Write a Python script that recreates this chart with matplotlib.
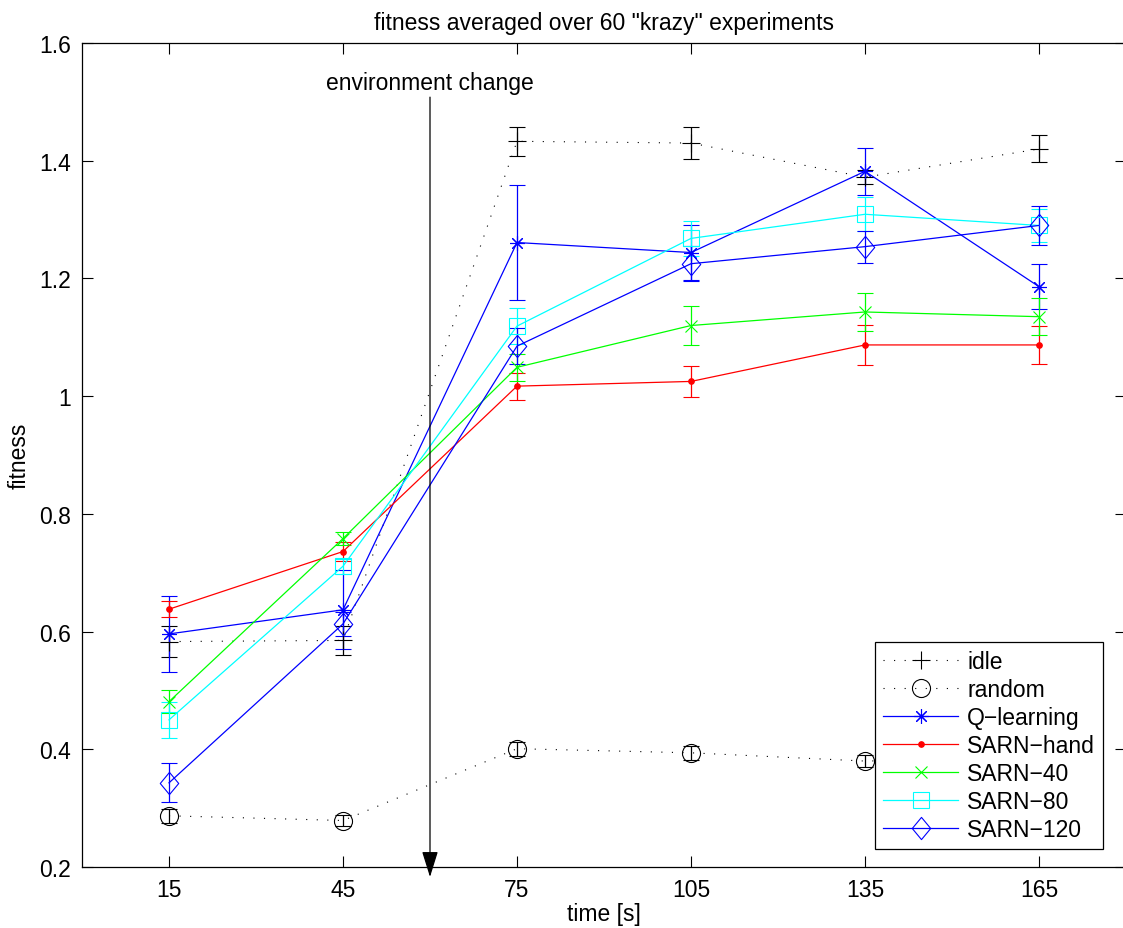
import matplotlib
matplotlib.use("Agg")
import matplotlib.pyplot as plt
from matplotlib.path import Path
import numpy as np

plt.rcParams['font.family'] = ['Liberation Sans', 'DejaVu Sans']

# ---- data ----
t = [15, 45, 75, 105, 135, 165]
idle = [0.583, 0.585, 1.433, 1.430, 1.372, 1.420]
idle_err = [0.027, 0.024, 0.025, 0.027, 0.012, 0.023]
rnd = [0.287, 0.279, 0.401, 0.394, 0.380, 0.385]
rnd_err = [0.012, 0.010, 0.012, 0.012, 0.010, 0.010]
qlearn = [0.596, 0.637, 1.261, 1.244, 1.382, 1.186]
qlearn_err = [0.065, 0.067, 0.098, 0.047, 0.040, 0.038]
hand = [0.638, 0.736, 1.017, 1.025, 1.087, 1.087]
hand_err = [0.014, 0.016, 0.023, 0.026, 0.034, 0.032]
s40 = [0.481, 0.758, 1.049, 1.120, 1.143, 1.135]
s40_err = [0.020, 0.011, 0.023, 0.033, 0.033, 0.031]
s80 = [0.450, 0.711, 1.119, 1.268, 1.309, 1.290]
s80_err = [0.031, 0.013, 0.031, 0.030, 0.029, 0.028]
s120 = [0.343, 0.613, 1.085, 1.225, 1.254, 1.290]
s120_err = [0.033, 0.020, 0.030, 0.030, 0.027, 0.033]

labels = ['idle', 'random', 'Q\u2212learning', 'SARN\u2212hand', 'SARN\u221240', 'SARN\u221280', 'SARN\u2212120']
xticks = [15, 45, 75, 105, 135, 165]
yticks = [0.2, 0.4, 0.6, 0.8, 1.0, 1.2, 1.4, 1.6]
ytick_labels = ['0.2', '0.4', '0.6', '0.8', '1', '1.2', '1.4', '1.6']
change_time = 60

FS = 16.5

diamond = Path([(0, 1), (0.83, 0), (0, -1), (-0.83, 0), (0, 1)],
               [Path.MOVETO, Path.LINETO, Path.LINETO, Path.LINETO, Path.CLOSEPOLY])

fig = plt.figure(figsize=(11.23, 9.29), dpi=100)
ax = fig.add_axes([82/1123, 1-868/929, 1044/1123, 824/929])

dotted = (0, (1, 8.5))
series = [
    (idle, idle_err, 'k', '+', 13, dotted, 'k'),
    (rnd, rnd_err, 'k', 'o', 13, dotted, 'none'),
    (qlearn, qlearn_err, 'b', (8, 2, 0), 10.5, '-', 'b'),
    (hand, hand_err, 'r', 'o', 4, '-', 'r'),
    (s40, s40_err, (0, 1, 0), 'x', 8, '-', (0, 1, 0)),
    (s80, s80_err, (0, 1, 1), 's', 11, '-', 'none'),
    (s120, s120_err, 'b', diamond, 16, '-', 'none'),
]
handles = []
for (y, e, c, m, ms, ls, mfc), lab in zip(series, labels):
    eb = ax.errorbar(t, y, yerr=e, color=c, marker=m, markersize=ms,
                     markerfacecolor=mfc, markeredgecolor=c, markeredgewidth=0.8,
                     linestyle=ls, linewidth=0.9 if ls == '-' else 0.8,
                     elinewidth=0.9, capsize=6, capthick=0.9, label=lab)
    handles.append(eb.lines[0])

ax.set_xlim(0, 180)
ax.set_ylim(0.2, 1.6)
ax.set_xticks(xticks)
ax.set_xticklabels([str(v) for v in xticks])
ax.set_yticks(yticks)
ax.set_yticklabels(ytick_labels)
ax.tick_params(direction='in', length=7.7, width=0.8, top=True, right=True,
               labelsize=FS, pad=8)
for s in ax.spines.values():
    s.set_linewidth(0.9)

ax.set_title('fitness averaged over 60 "krazy" experiments', fontsize=FS, pad=10)
ax.set_xlabel('time [s]', fontsize=FS, labelpad=1)
ax.set_ylabel('fitness', fontsize=FS, labelpad=6)

ax.annotate('', xy=(change_time, 0.183), xytext=(change_time, 1.508),
            arrowprops=dict(arrowstyle='-|>,head_length=0.8,head_width=0.25',
                            color='k', lw=0.9, mutation_scale=20,
                            shrinkA=0, shrinkB=0),
            annotation_clip=False)
ax.text(change_time, 1.513, 'environment change', ha='center', va='bottom', fontsize=FS)

leg = ax.legend(handles, labels, loc='lower right',
                bbox_to_anchor=(1103/1123, 1-850/929), bbox_transform=fig.transFigure,
                borderaxespad=0, fontsize=FS, handlelength=3.25, fancybox=False,
                framealpha=1, edgecolor='k', labelspacing=0.22, borderpad=0.35,
                handletextpad=0.4)
leg.get_frame().set_linewidth(0.9)

fig.savefig('out.png', dpi=100)
